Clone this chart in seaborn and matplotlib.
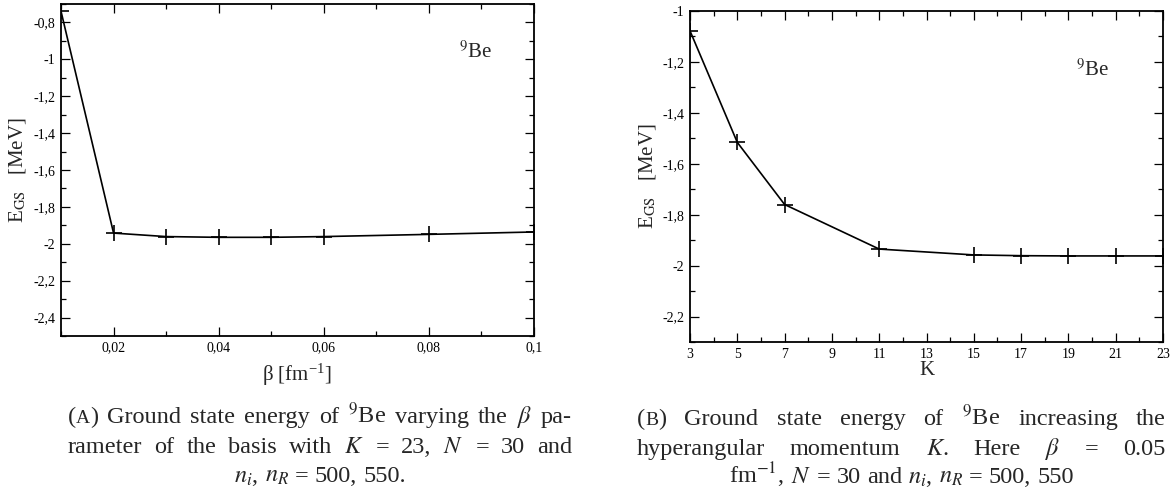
import matplotlib
matplotlib.use("Agg")
import matplotlib.pyplot as plt
import matplotlib.ticker as mticker
import seaborn as sns
import pandas as pd

# ---- data ----
beta_vals = [0.01, 0.02, 0.03, 0.04, 0.05, 0.06, 0.08, 0.10]
egs_beta = [-0.739, -1.942, -1.961, -1.965, -1.965, -1.961, -1.949, -1.936]

k_vals = [3, 5, 7, 11, 15, 17, 19, 21, 23]
egs_k = [-1.078, -1.516, -1.760, -1.935, -1.958, -1.961, -1.962, -1.962, -1.962]

k_tick_labels = [3, 5, 7, 9, 11, 13, 15, 17, 19, 21, 23]

sns.set_theme(style="white")
plt.rcParams['font.family'] = ['Liberation Serif', 'DejaVu Serif']
plt.rcParams['mathtext.fontset'] = 'stix'
plt.rcParams['axes.unicode_minus'] = False

W, H = 1171, 490
fig = plt.figure(figsize=(W / 100, H / 100), dpi=100)
fig.patch.set_facecolor('white')


def px_axes(l, t, r, b):
    return fig.add_axes([l / W, (H - b) / H, (r - l) / W, (b - t) / H])


def comma_fmt(v, pos):
    s = f"{v:.2f}".rstrip('0').rstrip('.')
    if s in ("-0", ""):
        s = "0"
    return s.replace('.', ',')


def style_axes(ax):
    for sp in ax.spines.values():
        sp.set_color('black')
        sp.set_linewidth(1.3)
    ax.tick_params(which='both', direction='in', top=True, right=True,
                   bottom=True, left=True, colors='black', labelsize=10)
    ax.tick_params(which='major', length=6.8, width=0.9, pad=4)
    ax.tick_params(which='minor', length=3.4, width=0.9)
    ax.xaxis.set_major_formatter(mticker.FuncFormatter(comma_fmt))
    ax.yaxis.set_major_formatter(mticker.FuncFormatter(comma_fmt))
    ax.set_facecolor('white')


# ---- left panel ----
ax1 = px_axes(61, 4, 534, 336)
dfa = pd.DataFrame({"beta": beta_vals, "E": egs_beta})
sns.lineplot(data=dfa, x="beta", y="E", ax=ax1, color='black', linewidth=1.2,
             marker='+', markersize=12, markeredgewidth=1.2, markeredgecolor='black')
ax1.set_xlim(0.01, 0.1)
ax1.set_ylim(-2.5, -0.7)
ax1.xaxis.set_major_locator(mticker.MultipleLocator(0.02))
ax1.xaxis.set_minor_locator(mticker.MultipleLocator(0.01))
ax1.yaxis.set_major_locator(mticker.MultipleLocator(0.2))
ax1.yaxis.set_minor_locator(mticker.MultipleLocator(0.1))
style_axes(ax1)
ax1.set_xlabel(r"β [fm$^{\mathregular{-1}}$]", fontsize=15, labelpad=5)
ax1.set_ylabel(r"E$_{\rm GS}$   [MeV]", fontsize=15, labelpad=4)
ax1.text(0.877, 0.855, r"$^{9}$Be", transform=ax1.transAxes, fontsize=15,
         ha='center', va='center')

# ---- right panel ----
ax2 = px_axes(690, 11, 1163, 342)
dfb = pd.DataFrame({"K": k_vals, "E": egs_k})
sns.lineplot(data=dfb, x="K", y="E", ax=ax2, color='black', linewidth=1.2,
             marker='+', markersize=12, markeredgewidth=1.2, markeredgecolor='black')
ax2.set_xlim(3, 23)
ax2.set_ylim(-2.3, -1.0)
ax2.xaxis.set_major_locator(mticker.FixedLocator(k_tick_labels))
ax2.xaxis.set_minor_locator(mticker.MultipleLocator(1))
ax2.yaxis.set_major_locator(mticker.MultipleLocator(0.2))
ax2.yaxis.set_minor_locator(mticker.MultipleLocator(0.1))
style_axes(ax2)
ax2.set_xlabel("K", fontsize=15, labelpad=0)
ax2.set_ylabel(r"E$_{\rm GS}$   [MeV]", fontsize=15, labelpad=3.5)
ax2.text(0.852, 0.822, r"$^{9}$Be", transform=ax2.transAxes, fontsize=15,
         ha='center', va='center')

# ---- captions (justified lines) ----
CAP = 17.5
renderer = fig.canvas.get_renderer()


def make_word(segs, y):
    arts = []
    total = 0.0
    for s, sz in segs:
        t = fig.text(0, 1 - y / H, s, fontsize=sz, ha='left', va='baseline')
        w = t.get_window_extent(renderer).width
        arts.append((t, w))
        total += w
    return arts, total


def place_line(words, y, x0, x1, justify=True):
    built = [make_word(w, y) for w in words]
    widths = [b[1] for b in built]
    t1 = fig.text(0, 0, "a a", fontsize=CAP)
    t2 = fig.text(0, 0, "aa", fontsize=CAP)
    space = t1.get_window_extent(renderer).width - t2.get_window_extent(renderer).width
    t1.remove()
    t2.remove()
    if justify and len(words) > 1:
        gap = (x1 - x0 - sum(widths)) / (len(words) - 1)
        x = x0
    else:
        gap = space
        tot = sum(widths) + gap * (len(words) - 1)
        x = (x0 + x1) / 2 - tot / 2
    for arts, wtot in built:
        xx = x
        for t, w in arts:
            t.set_x(xx / W)
            xx += w
        x += wtot + gap


def W_(s):
    return [(s, CAP)]


capA = [
    [[("(", CAP), ("A", CAP * 0.8), (")", CAP)], W_("Ground"), W_("state"), W_("energy"),
     W_("of"), W_(r"$^{9}$Be"), W_("varying"), W_("the"), W_(r"$\beta$"), W_("pa-")],
    [W_("rameter"), W_("of"), W_("the"), W_("basis"), W_("with"), W_(r"$K$"), W_("="),
     W_("23,"), W_(r"$N$"), W_("="), W_("30"), W_("and")],
    [W_(r"$n_i$,"), W_(r"$n_R$"), W_("="), W_("500,"), W_("550.")],
]
capB = [
    [[("(", CAP), ("B", CAP * 0.8), (")", CAP)], W_("Ground"), W_("state"), W_("energy"),
     W_("of"), W_(r"$^{9}$Be"), W_("increasing"), W_("the")],
    [W_("hyperangular"), W_("momentum"), W_(r"$K$."), W_("Here"), W_(r"$\beta$"), W_("="),
     W_("0.05")],
    [W_(r"fm$^{-1}$,"), W_(r"$N$"), W_("="), W_("30"), W_("and"), W_(r"$n_i$,"), W_(r"$n_R$"),
     W_("="), W_("500,"), W_("550")],
]

for i, (line, y) in enumerate(zip(capA, [423, 453, 482])):
    place_line(line, y, 68, 572, justify=(i < 2))
for i, (line, y) in enumerate(zip(capB, [425, 455, 483])):
    place_line(line, y, 637, 1166, justify=(i < 2))

fig.savefig("out.png", dpi=100, facecolor='white')
